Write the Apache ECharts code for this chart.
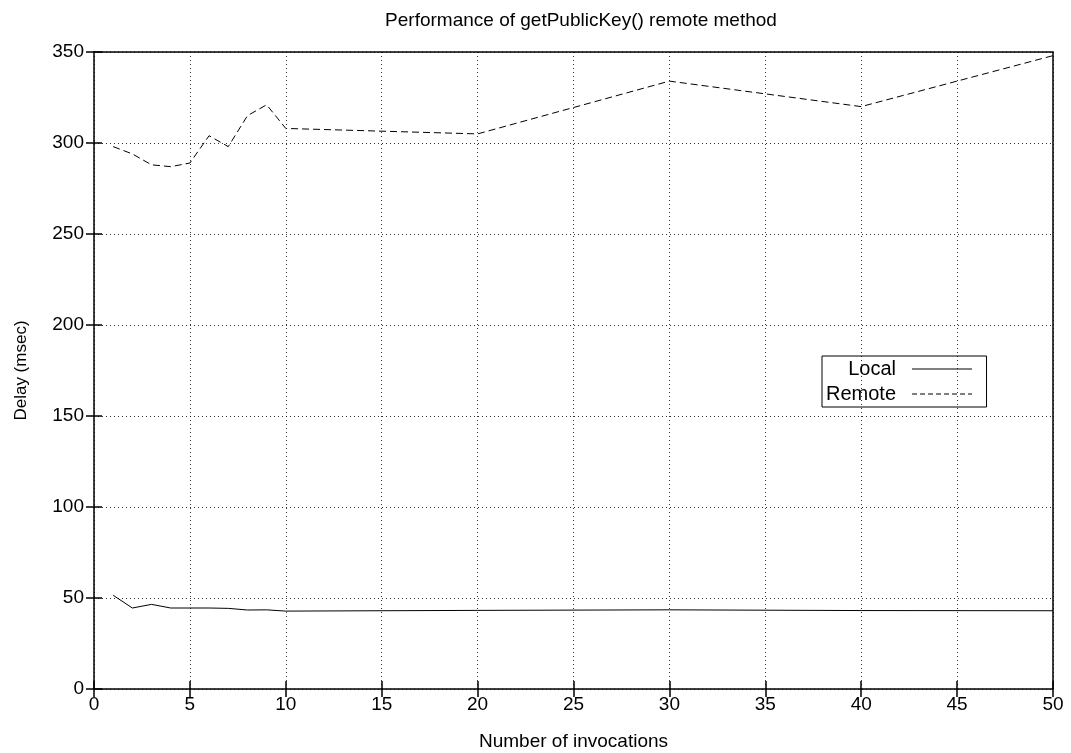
<!DOCTYPE html>
<html><head><meta charset="utf-8">
<script src="https://cdn.jsdelivr.net/npm/echarts@6/dist/echarts.min.js"></script>
<style>html,body{margin:0;padding:0;background:#fff}#c{width:1071px;height:753px}</style>
</head><body><div id="c"></div>
<script>
const invocations = [1,2,3,4,5,6,7,8,9,10,20,30,40,50];
const localDelay  = [51.5,44.5,46.5,44.5,44.5,44.5,44.3,43.4,43.5,42.8,43.2,43.5,43.1,43.0];
const remoteDelay = [298,294,288,287,289,304,298,315,321,308,305,334,320,348];
const titleText = 'Performance of getPublicKey() remote method';
const xName = 'Number of invocations';
const yName = 'Delay (msec)';

const font = 'Liberation Sans, Arial, sans-serif';
const pair = (xs, ys) => xs.map((x,i)=>[x, ys[i]]);
const chart = echarts.init(document.getElementById('c'), null, {renderer:'canvas'});
const split = {show:true, lineStyle:{color:'#000', type:[1,3], width:1, opacity:0.8}};
const tick = {inside:true, length:8, lineStyle:{color:'#000', width:1.5}};
chart.setOption({
  animation:false,
  backgroundColor:'#fff',
  title:{text:titleText, left:576, textAlign:'center', top:6, textStyle:{fontFamily:font, fontSize:19, fontWeight:'normal', color:'#000'}},
  grid:{left:94, right:18, top:52, bottom:64, show:true, borderColor:'#000', borderWidth:1.5, outerBoundsMode:'none', containLabel:false},
  legend:{
    orient:'vertical', left:822, top:356, align:'right', icon:'inherit',
    itemWidth:60, itemHeight:14, itemGap:5,
    itemStyle:{color:'rgba(0,0,0,0)', borderColor:'rgba(0,0,0,0)', borderWidth:0},
    lineStyle:{width:1, color:'#000'},
    borderColor:'#000', borderWidth:1, padding:[3,14,3,4],
    textStyle:{fontFamily:font, fontSize:20, color:'#000', padding:[0,11,0,0]},
    data:[{name:'Local'},{name:'Remote', lineStyle:{type:[5,3], width:1}}]
  },
  xAxis:[{
    type:'value', min:0, max:50, interval:5,
    name:xName, nameLocation:'middle', nameGap:43,
    nameTextStyle:{fontFamily:font, fontSize:19, color:'#000'},
    axisLine:{show:false}, axisTick:tick,
    axisLabel:{fontFamily:font, fontSize:19, color:'#000', margin:6},
    splitLine:split
  },{
    type:'value', min:0, max:50, interval:5, position:'top',
    axisLine:{show:false}, axisTick:tick,
    axisLabel:{show:false}, splitLine:{show:false}
  }],
  yAxis:[{
    type:'value', min:0, max:350, interval:50,
    name:yName, nameLocation:'middle', nameGap:64, nameRotate:90,
    nameTextStyle:{fontFamily:font, fontSize:17, color:'#000'},
    axisLine:{show:false}, axisTick:tick,
    axisLabel:{fontFamily:font, fontSize:19, color:'#000', margin:10},
    splitLine:split
  },{
    type:'value', min:0, max:350, interval:50, position:'right',
    axisLine:{show:false}, axisTick:tick,
    axisLabel:{show:false}, splitLine:{show:false}
  }],
  series:[
    {name:'Local', type:'line', data:pair(invocations, localDelay), symbol:'none', showSymbol:false,
     lineStyle:{color:'#000', width:1, type:'solid'}, itemStyle:{color:'#000'}},
    {name:'Remote', type:'line', data:pair(invocations, remoteDelay), symbol:'none', showSymbol:false,
     lineStyle:{color:'#000', width:1, type:[7,4]}, itemStyle:{color:'#000'}}
  ]
});
</script></body></html>
